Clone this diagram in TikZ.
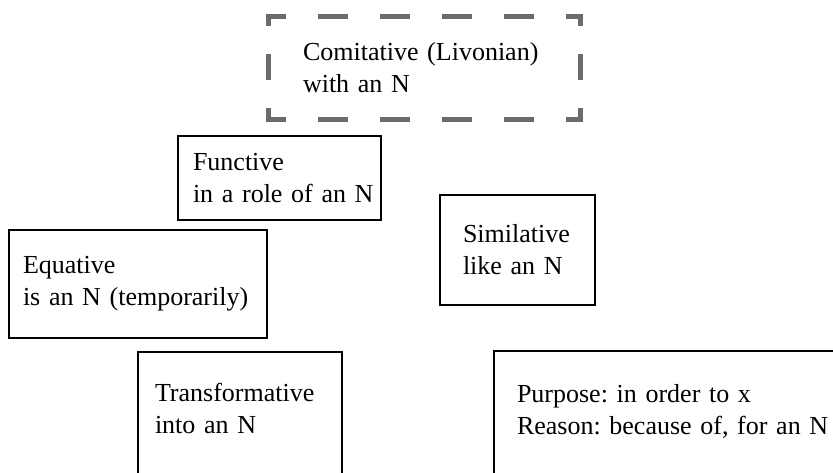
\documentclass[tikz,border=0pt]{standalone}
\usepackage{fontspec}
\setmainfont{Liberation Serif}
\definecolor{dashgray}{HTML}{6B6B6B}

\begin{document}
\frenchspacing
\begin{tikzpicture}[x=0.5pt, y=-0.5pt,
		box/.style={draw, line width=1.3pt, outer sep=0pt, align=left, font=\fontsize{13}{16}\selectfont},
		openbox/.style={box, anchor=north west, text depth=60pt},
		dashside/.style={draw=dashgray, line width=2.5pt, line cap=rect}]
	\useasboundingbox (0,0) rectangle (833,472);
	\clip (0,0) rectangle (833,472);
	\node[box, draw=none, inner xsep=17.5pt, text width=121pt, minimum height=51.5pt] (com) at (424,67.5) {Comitative (Livonian)\\with an N};
	\node[box, inner xsep=7.5pt, text width=86.5pt, minimum height=42pt] (fun) at (279.5,178) {Functive\\\mbox{in a role of an N}};
	\node[box, inner xsep=7pt, text width=115pt, minimum height=54pt] (equ) at (138,284) {Equative\\is an N (temporarily)};
	\node[box, inner xsep=11.5pt, text width=54.5pt, minimum height=55pt] (sim) at (517.5,250) {Similative\\like an N};
	\node[openbox, inner xsep=8.5pt, inner ysep=15.5pt, text width=85pt] (tra) at (138,352) {Transformative\\into an N};
	\node[openbox, inner xsep=11.5pt, inner ysep=16.5pt, text width=167pt] (pur) at (494,351) {Purpose: in order to x\\Reason: because of, for an N};
	\draw[dashside, dash pattern=on 12.5pt off 18.5pt, dash phase=4.75pt] (com.north west) -- (com.north east);
	\draw[dashside, dash pattern=on 12.5pt off 18.5pt, dash phase=4.75pt] (com.south west) -- (com.south east);
	\draw[dashside, dash pattern=on 10.5pt off 16.5pt, dash phase=6.75pt] (com.north west) -- (com.south west);
	\draw[dashside, dash pattern=on 10.5pt off 16.5pt, dash phase=6.75pt] (com.north east) -- (com.south east);
\end{tikzpicture}
\end{document}
